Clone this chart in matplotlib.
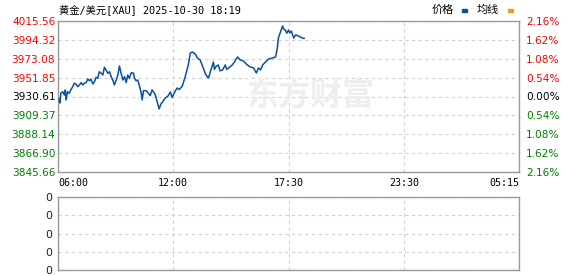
import numpy as np
import matplotlib
matplotlib.use("Agg")
from matplotlib import pyplot as plt

# 黄金/美元 分时数据
times = ["06:04", "06:06", "06:09", "06:15", "06:20", "06:23", "06:25", "06:30",
         "06:35", "06:41", "06:46", "06:51", "06:56", "07:02", "07:07", "07:12",
         "07:17", "07:22", "07:28", "07:33", "07:38", "07:43", "07:49", "07:54",
         "07:59", "08:04", "08:09", "08:15", "08:20", "08:25", "08:30", "08:36",
         "08:41", "08:46", "08:51", "08:56", "09:02", "09:07", "09:12", "09:17",
         "09:23", "09:28", "09:33", "09:38", "09:43", "09:49", "09:56", "09:59",
         "10:04", "10:09", "10:15", "10:20", "10:23", "10:27", "10:35", "10:42",
         "10:48", "10:54", "11:00", "11:04", "11:10", "11:16", "11:21", "11:26",
         "11:31", "11:35", "11:43", "11:51", "11:56", "12:00", "12:05", "12:11",
         "12:17", "12:26", "12:34", "12:43", "12:49", "12:55", "13:03", "13:09",
         "13:17", "13:26", "13:32", "13:38", "13:41", "13:46", "13:55", "13:58",
         "14:01", "14:09", "14:14", "14:21", "14:29", "14:33", "14:38", "14:49",
         "14:55", "15:04", "15:12", "15:21", "15:32", "15:41", "15:50", "15:58",
         "16:04", "16:10", "16:16", "16:24", "16:33", "16:44", "16:53", "16:58",
         "17:01", "17:07", "17:13", "17:16", "17:21", "17:25", "17:30", "17:34",
         "17:39", "17:46", "17:52", "18:01", "18:07", "18:13", "18:19"]
prices = [3927.5, 3923.3, 3934.6, 3936.0, 3932.3, 3938.0, 3926.7, 3936.0,
          3934.2, 3938.7, 3941.7, 3945.5, 3944.7, 3941.7, 3943.6, 3946.2,
          3943.6, 3945.5, 3946.2, 3950.3, 3948.4, 3950.0, 3944.7, 3947.3,
          3952.2, 3951.1, 3958.5, 3956.7, 3954.8, 3963.5, 3960.4, 3956.7,
          3958.5, 3952.9, 3949.2, 3943.6, 3949.2, 3954.8, 3965.0, 3956.7,
          3949.2, 3952.9, 3946.2, 3954.8, 3951.1, 3957.4, 3956.7, 3951.1,
          3948.4, 3949.2, 3941.7, 3934.2, 3926.7, 3937.2, 3937.2, 3934.6,
          3931.5, 3938.0, 3935.0, 3932.3, 3924.4, 3916.6, 3921.8, 3924.4,
          3927.0, 3928.9, 3931.0, 3935.7, 3929.5, 3932.3, 3936.2, 3940.2,
          3938.4, 3942.4, 3952.6, 3966.1, 3979.6, 3980.7, 3978.4, 3973.9,
          3971.7, 3962.7, 3956.0, 3952.6, 3951.4, 3958.2, 3969.4, 3961.2,
          3963.8, 3966.1, 3959.5, 3960.4, 3966.1, 3961.0, 3962.7, 3966.1,
          3969.4, 3975.1, 3971.7, 3970.6, 3966.1, 3963.8, 3962.7, 3957.1,
          3962.7, 3960.5, 3966.1, 3969.4, 3972.8, 3973.9, 3975.1, 3985.2,
          3996.4, 4003.2, 4010.0, 4006.6, 4005.4, 4001.8, 4005.4, 4002.0,
          4004.3, 3996.4, 3999.8, 3998.7, 3997.6, 3996.4, 3996.0]

price_ticks = [3845.66, 3866.90, 3888.14, 3909.37, 3930.61,
               3951.85, 3973.08, 3994.32, 4015.56]
pct_labels = ["2.16%", "1.62%", "1.08%", "0.54%", "0.00%",
              "0.54%", "1.08%", "1.62%", "2.16%"]
time_labels = ["06:00", "12:00", "17:30", "23:30", "05:15"]
vol_ticks = [0, 1, 2, 3, 4]
vol_labels = ["0", "0", "0", "0", "0"]

base = 3930.61
red = "#ff0000"
green = "#008000"
blue = "#0b4f9f"
grid = "#d0d0d0"
spine = "#999999"


def to_min(s):
    h, m = s.split(":")
    v = int(h) * 60 + int(m) - 360
    return v if v >= 0 else v + 1440

# 时间段等宽显示
seg_min = [to_min(t) for t in time_labels]
seg_min[-1] = 1395
seg_pos = list(range(len(time_labels)))
x = np.interp([to_min(t) for t in times], seg_min, seg_pos)

W, H = 578, 276
fig = plt.figure(figsize=(W / 100, H / 100), dpi=100)

ax = fig.add_axes([58 / W, 1 - 172 / H, 461 / W, 151 / H])
ax.plot(x, prices, color=blue, lw=1.1, zorder=3)
ax.set_xlim(0, 4)
ax.set_ylim(price_ticks[0], price_ticks[-1])
ax.set_yticks(price_ticks)
ax.set_yticklabels(["%.2f" % v for v in price_ticks], fontsize=7.6)
for lab, v in zip(ax.get_yticklabels(), price_ticks):
    lab.set_color(red if v > base + 0.01 else (green if v < base - 0.01 else "black"))
ax.set_xticks(seg_pos)
ax.set_xticklabels(time_labels, fontsize=7.2, family=["DejaVu Sans Mono"])
labs = ax.get_xticklabels()
labs[0].set_horizontalalignment("left")
labs[-1].set_horizontalalignment("right")
ax.tick_params(length=0, pad=2)
ax.tick_params(axis="x", pad=4)
ax.grid(True, ls=(0, (3, 3)), color=grid, lw=0.8)
for s in ax.spines.values():
    s.set_color(spine)
    s.set_linewidth(1)

ax2 = ax.twinx()
ax2.set_ylim(ax.get_ylim())
ax2.set_yticks(price_ticks)
ax2.set_yticklabels(pct_labels, fontsize=7.6)
for lab, v in zip(ax2.get_yticklabels(), price_ticks):
    lab.set_color(red if v > base + 0.01 else (green if v < base - 0.01 else "black"))
ax2.tick_params(length=0, pad=5)
for s in ax2.spines.values():
    s.set_visible(False)

# 水印
fig.text(246 / W, 1 - 97 / H, "东方财富", fontsize=23, fontweight="bold",
         color="#eeeeee", family=["Noto Sans CJK SC"], va="center", ha="left", zorder=0)

# 成交量面板
axv = fig.add_axes([58 / W, 1 - 270 / H, 461 / W, 73 / H])
axv.set_xlim(0, 4)
axv.set_ylim(0, 4)
axv.set_yticks(vol_ticks)
axv.set_yticklabels(vol_labels, fontsize=7.8, color="#1a1a4a")
axv.set_xticks(seg_pos)
axv.set_xticklabels([])
axv.tick_params(length=0, pad=4)
axv.grid(True, ls=(0, (3, 3)), color=grid, lw=0.8)
for s in axv.spines.values():
    s.set_color(spine)
    s.set_linewidth(1)

# 标题和图例
fig.text(59 / W, 1 - 10 / H, "黄金/美元[XAU] 2025-10-30 18:19", fontsize=7.4,
         family=["DejaVu Sans Mono", "Noto Sans CJK SC"], va="center", ha="left")
fig.text(432 / W, 1 - 10 / H, "价格", fontsize=8, family=["Noto Sans CJK SC"],
         va="center", ha="left")
fig.text(477 / W, 1 - 10 / H, "均线", fontsize=8, family=["Noto Sans CJK SC"],
         va="center", ha="left")
fig.patches.append(plt.Rectangle((462 / W, 1 - 12 / H), 5 / W, 3 / H,
                                 transform=fig.transFigure, color=blue))
fig.patches.append(plt.Rectangle((508 / W, 1 - 12 / H), 5 / W, 3 / H,
                                 transform=fig.transFigure, color="#e0a020"))

fig.savefig("out.png", dpi=100)
